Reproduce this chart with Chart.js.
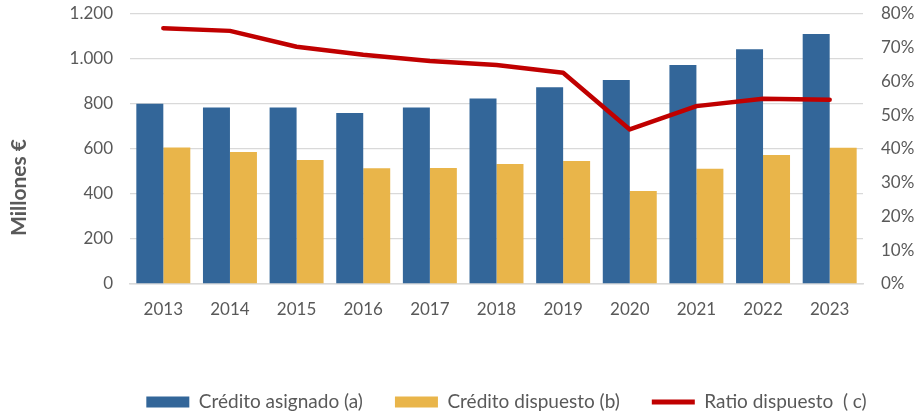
<!DOCTYPE html>
<html><head><meta charset="utf-8">
<script src="https://cdn.jsdelivr.net/npm/chart.js@4"></script>
<style>html,body{margin:0;padding:0;background:#fff}#wrap{width:918px;height:413px;position:relative}</style>
</head><body><div id="wrap"><canvas id="c" width="918" height="413"></canvas></div>
<script>
const years = ['2013','2014','2015','2016','2017','2018','2019','2020','2021','2022','2023'];
const creditoAsignado = [801,785,784,760,785,825,874,907,973,1043,1111];
const creditoDispuesto = [607,587,551,514,516,533,547,413,512,573,606];
const ratioDispuesto = [75.8,75.0,70.3,67.9,66.1,64.9,62.6,45.8,52.7,54.9,54.6];
const leftTickLabels = ['0','200','400','600','800','1.000','1.200'];
const rightTickLabels = ['0%','10%','20%','30%','40%','50%','60%','70%','80%'];
const seriesNames = ['Crédito asignado (a)','Crédito dispuesto (b)','Ratio dispuesto  ( c)'];
const yTitle = 'Millones €';

const FONT = 'Lato';
const GREY = '#595959';

const yTitlePlugin = {
  id: 'yTitle',
  afterDraw(chart) {
    const ctx = chart.ctx;
    ctx.save();
    ctx.translate(19.5, 187.5);
    ctx.rotate(-Math.PI / 2);
    ctx.font = 'bold 21px ' + FONT;
    ctx.fillStyle = GREY;
    ctx.textAlign = 'center';
    ctx.textBaseline = 'middle';
    ctx.fillText(yTitle, 0, 0);
    ctx.restore();
  }
};
const legendShift = {
  id: 'legendShift',
  afterLayout(chart) {
    const lg = chart.legend;
    const dx = 14, dy = 41.5;
    lg.left += dx; lg.right += dx;
    lg.top += dy; lg.bottom += dy;
  }
};
const noPad = (w) => (scale) => { scale.paddingTop = 0; scale.paddingBottom = 0; scale.width = w; };

function draw() {
  new Chart(document.getElementById('c'), {
    data: {
      labels: years,
      datasets: [
        { type: 'bar', label: seriesNames[0], data: creditoAsignado, backgroundColor: '#336699', yAxisID: 'y', order: 1,
          categoryPercentage: 0.81, barPercentage: 1.0 },
        { type: 'bar', label: seriesNames[1], data: creditoDispuesto, backgroundColor: '#E9B54A', yAxisID: 'y', order: 1,
          categoryPercentage: 0.81, barPercentage: 1.0 },
        { type: 'line', label: seriesNames[2], data: ratioDispuesto, borderColor: '#C00000', backgroundColor: '#C00000',
          borderWidth: 4.5, pointRadius: 0, tension: 0, yAxisID: 'y1', order: 0, borderCapStyle: 'round', borderJoinStyle: 'round' }
      ]
    },
    options: {
      responsive: false,
      animation: false,
      devicePixelRatio: 1,
      layout: { padding: { left: 69, right: 2, top: 14, bottom: 33 } },
      scales: {
        x: {
          grid: { display: false, drawTicks: false },
          border: { display: true, color: '#d9d9d9', width: 1.5 },
          ticks: { color: GREY, font: { family: FONT, size: 17 }, padding: 15, maxRotation: 0 },
          afterFit: (s) => { s.height = 35; s.paddingLeft = 0; s.paddingRight = 0; }
        },
        y: {
          position: 'left', min: 0, max: 1200,
          grid: { color: '#d9d9d9', lineWidth: 1.3, drawTicks: false },
          border: { display: false },
          ticks: { stepSize: 200, color: GREY, font: { family: FONT, size: 17 }, padding: 17,
            callback: (v) => leftTickLabels[Math.round(v / 200)] },
          afterFit: noPad(61)
        },
        y1: {
          position: 'right', min: 0, max: 80,
          grid: { display: false, drawTicks: false },
          border: { display: false },
          ticks: { stepSize: 10, color: GREY, font: { family: FONT, size: 17 }, padding: 18,
            callback: (v) => rightTickLabels[Math.round(v / 10)] },
          afterFit: noPad(53)
        }
      },
      plugins: {
        tooltip: { enabled: false },
        legend: {
          position: 'bottom',
          labels: {
            usePointStyle: true,
            pointStyleWidth: 43,
            boxHeight: 11,
            padding: 32,
            color: GREY,
            font: { family: FONT, size: 19 },
            generateLabels: (chart) => chart.data.datasets.map((ds, i) => ({
              text: ds.label,
              fillStyle: ds.backgroundColor,
              strokeStyle: i === 2 ? ds.borderColor : 'rgba(0,0,0,0)',
              lineWidth: i === 2 ? 5 : 0,
              pointStyle: i === 2 ? 'line' : 'rect',
              hidden: false,
              datasetIndex: i,
              fontColor: GREY
            }))
          }
        }
      }
    },
    plugins: [yTitlePlugin, legendShift]
  });
}
Promise.all([document.fonts.load('17px Lato'), document.fonts.load('19px Lato'), document.fonts.load('bold 21px Lato')]).then(draw, draw);
</script>
</body></html>
